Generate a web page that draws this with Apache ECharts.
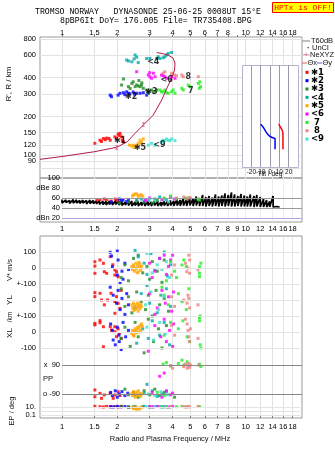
<!DOCTYPE html>
<html><head><meta charset="utf-8">
<script src="https://cdn.jsdelivr.net/npm/echarts@6/dist/echarts.min.js"></script>
<style>html,body{margin:0;padding:0;background:#fff}#c{width:335px;height:451px}</style>
</head><body><div id="c"></div>
<script>
// ---------- axis ticks ----------
const freqTicksTop = [1,1.5,2,3,4,5,6,7,8,10,12,14,16,18];
const freqTicksMid = [1,1.5,2,3,4,5,6,7,8,9,10,12,14,16,18];
const freqGrid = [1,1.5,2,3,4,5,6,7,8,9,10,12,14,16,18];
const heightTicks = [80,90,100,120,150,200,300,400,600,800];
const dbTicks = [20,40,60,80,100];
const dbTickText = ['dBn 20','40','60','dBe 80','100'];
const tiltTicks = [-20,-10,0,10,20];
const bottomTickVals = [3,11,70,86,102,118,134,150,166];
const bottomTickText = ['0.1','10.','-100','0','+-100','0','+-100','0','100'];
const ppTickVals = [24,53];
const ppTickText = ['o -90','x  90'];

// ---------- clusters ----------
const clusterColors = ['#ff0000','#0000ff','#228b22','#00a8a8','#ffa500','#ff00ff','#22ee22','#f08080','#40e0d0'];
const legendLabels = ['✱1','✱2','✱3','<4','✱5','<6',' 7',' 8','<9'];
const markerLabels = ['✱1','✱2','✱3','<4','✱5','<6','7','8','<9'];
const markerF = [2.07,2.38,3.07,3.14,2.66,3.71,5.02,4.87,3.39];
const markerH = [129,285,308,532,115,384,317,407,120];

// virtual height points [f MHz, h km, cluster]
const hgtPts = [
 [1.51,124,1],[1.61,131,1],[1.64,128,1],[1.68,135,1],[1.72,132,1],[1.75,136,1],[1.80,135,1],[1.83,131,1],[1.94,139,1],[1.98,136,1],[2.02,146,1],[2.05,142,1],[2.07,148,1],[2.11,139,1],[2.13,131,1],[2.16,127,1],
 [1.83,293,2],[1.86,285,2],[2.02,293,2],[2.07,303,2],[2.16,306,2],[2.20,295,2],[2.25,311,2],[2.30,303,2],[2.34,300,2],[2.44,310,2],[2.48,298,2],[2.55,303,2],[2.66,303,2],[2.77,306,2],[2.89,293,2],[2.95,306,2],
 [2.11,351,3],[2.16,391,3],[2.30,341,3],[2.35,330,3],[2.40,361,3],[2.44,372,3],[2.50,341,3],[2.55,351,3],[2.60,345,3],[2.62,380,3],[2.66,341,3],[2.71,351,3],[2.72,365,3],[2.77,331,3],[2.89,321,3],[2.95,303,3],[3.07,321,3],[3.14,311,3],[3.28,321,3],
 [2.25,549,4],[2.30,539,4],[2.40,532,4],[2.47,560,4],[2.50,600,4],[2.55,578,4],[2.60,524,4],[2.89,564,4],[3.01,564,4],[3.28,564,4],[3.34,581,4],[3.41,564,4],[3.55,571,4],[3.63,581,4],[3.71,600,4],[3.79,617,4],[3.95,628,4],
 [2.33,120,5],[2.40,118,5],[2.44,120,5],[2.47,115,5],[2.50,118,5],[2.55,120,5],[2.60,124,5],[2.66,131,5],[2.68,124,5],[2.71,127,5],[2.77,134,5],
 [2.55,445,6],[2.95,420,6],[3.00,438,6],[3.01,407,6],[3.07,396,6],[3.14,433,6],[3.21,407,6],[3.48,420,6],[3.55,415,6],[3.63,407,6],[3.71,396,6],[3.95,407,6],[4.12,396,6],
 [3.41,321,7],[3.48,311,7],[3.55,311,7],[3.63,321,7],[3.71,306,7],[3.79,303,7],[3.95,311,7],[4.03,321,7],[4.12,303,7],[4.49,331,7],[4.57,321,7],[4.87,351,7],[4.97,341,7],[5.52,361,7],[5.59,331,7],[5.63,372,7],[5.68,341,7],
 [3.55,433,8],[3.63,445,8],[3.95,433,8],[4.10,420,8],[4.20,415,8],[4.49,420,8],[4.57,407,8],[5.52,407,8],
 [2.95,120,9],[3.07,124,9],[3.21,120,9],[3.48,127,9],[3.55,131,9],[3.63,130,9],[3.71,134,9],[3.79,131,9],[3.87,130,9],[3.95,134,9],[4.12,130,9]
];

// NeXYZ real-height profile [f, h]
const profF = [0.759,1.0,1.499,1.985,2.267,2.497,2.771,3.141,3.489,3.729,3.956,4.098,4.122,4.02,3.776,3.502,3.278];
const profH = [93.1,97.9,106.6,115.4,127.5,148.1,171.8,205.4,268.6,332.8,397.8,459,520,568.6,600,616,627];
const nexyzF = [1.985,2.771];
const nexyzH = [115,172];

// tilt inset [deg, h]
const tiltXDeg = [5.4,5.4,2.4,-0.3,-2.5,-4.6,-6.8,-10];
const tiltXH = [111,134.5,137,140,145,153,163,174];
const tiltYDeg = [13.9,13.9,12.9,11.1,9.3];
const tiltYH = [111,148,157,162,174];

// amplitude panel: noise band
const noiseF = [1.00,1.05,1.10,1.15,1.20,1.25,1.30,1.36,1.42,1.48,1.54,1.60,1.67,1.74,1.81,1.88,1.96,2.04,2.12,2.21,2.30,2.40,2.50,2.60,2.71,2.82,2.94,3.06,3.19,3.32,3.46,3.60,3.75,3.90,4.06,4.23,4.40,4.58,4.77,4.97,5.17,5.38,5.60,5.83,6.07,6.32,6.58,6.85,7.13,7.42,7.72,8.04,8.37,8.71,9.07,9.44,9.83,10.2,10.6,11.1,11.5,12.0,12.5,13.0,13.5,14.1,14.7,15.3];
const noiseHi = [57,56,55,57,56,55,56,55,56,55,54, 55,54,53,54,53,55,54, 53,52,53,54,52,53,52,54, 53,52,54,53,52,54,53,55, 54,58,56,60,57,62,59, 63,60,66,62,64,61,67,63, 65,69,66,71,67,64,68,65, 63,67,64,66,62,58,56,53,64,43,42];
const noiseLo = [50,51,49,50,50,49,50,48,49,49,48, 47,47,46,47,46,47,46, 45,46,45,44,45,44,45,44, 45,44,45,44,44,45,44,45, 44,45,44,45,44,45,44, 45,44,44,43,44,43,44,43, 44,43,44,43,43,44,43,43, 43,43,42,43,42,42,42,42,42,41,41];
// echo amplitudes [f, dB, cluster]
const ampPts = [
 [1.55,56,1],[1.61,57,1],[1.70,58,1],[1.75,57,1],[1.95,58,1],[2.00,56,1],[1.85,54,1],
 [1.85,52,2],[2.05,58,2],[2.10,55,2],[2.15,56,2],[2.25,53,2],[2.30,55,2],
 [2.05,50,3],[2.30,52,3],[2.55,54,3],[2.80,52,3],[3.30,55,3],[3.60,58,3],[3.10,50,3],
 [2.55,56,4],[2.70,58,4],[2.80,54,4],[2.95,55,4],[3.20,58,4],[3.40,62,4],[3.70,57,4],
 [2.42,64,5],[2.45,66,5],[2.50,68,5],[2.55,68,5],[2.60,63,5],[2.65,66,5],[2.70,66,5],[2.75,64,5],
 [2.85,55,6],[3.00,60,6],[3.50,57,6],[3.90,62,6],[4.10,58,6],
 [3.60,60,7],[3.90,64,7],[4.20,58,7],[4.70,60,7],[5.50,58,7],[5.60,56,7],
 [4.20,60,8],[4.60,62,8],[4.80,58,8],[4.90,61,8],[5.00,60,8],
 [3.00,58,9],[3.20,54,9],[3.60,56,9],[3.80,52,9]
];

// lower panel rows [f, value, cluster]
const velStar = [
 [1.51,39,1],[1.51,12,1],[1.51,-33,1],[1.61,50,1],[1.68,29,1],[1.70,-23,1],[1.75,-33,1],[1.83,71,1],[1.94,-12,1],[1.94,-44,1],[1.98,-23,1],[2.02,-54,1],[1.89,20,1],
 [1.83,98,2],[1.86,75,2],[2.00,106,2],[2.02,50,2],[1.88,8,2],[2.00,-44,2],[2.07,-96,2],[2.12,-20,2],[2.20,30,2],[2.30,-10,2],[2.15,-70,2],
 [2.10,-60,3],[2.20,20,3],[2.30,-80,3],[2.45,60,3],[2.60,80,3],[2.75,-30,3],[2.90,10,3],[3.00,-70,3],[3.10,40,3],[3.30,-20,3],[3.50,-90,3],[3.60,50,3],
 [2.50,110,4],[2.60,70,4],[2.80,30,4],[2.90,-40,4],[3.05,90,4],[3.20,-10,4],[3.40,60,4],[3.60,100,4],[3.75,-50,4],[3.90,20,4],
 [2.40,10,5],[2.42,-10,5],[2.45,20,5],[2.48,-20,5],[2.50,0,5],[2.53,30,5],[2.55,-5,5],[2.58,15,5],[2.60,-25,5],[2.63,5,5],[2.66,25,5],[2.68,-15,5],[2.71,10,5],[2.45,0,5],[2.57,-30,5],[2.62,35,5],
 [3.00,30,6],[3.20,-20,6],[3.40,60,6],[3.60,80,6],[3.70,-40,6],[3.90,50,6],[4.00,80,6],[3.10,-60,6],[3.80,10,6],
 [3.90,40,7],[4.10,-20,7],[4.50,19,7],[4.60,50,7],[4.75,10,7],[5.60,8,7],[5.60,-33,7],[5.60,-54,7],[5.70,30,7],[4.20,-60,7],[3.70,-80,7],
 [4.85,0,8],[4.78,-23,8],[4.95,-33,8],[4.95,50,8],[5.50,-12,8],[3.95,-44,8],[4.10,19,8],[4.70,30,8],[4.90,80,8],
 [2.90,90,9],[3.10,-30,9],[3.30,20,9],[3.50,-10,9],[3.70,40,9],[3.85,-60,9]
];
const ylPts = [
 [1.51,46,1],[1.51,21,1],[1.61,42,1],[1.64,0,1],[1.77,0,1],[1.85,42,1],[1.94,-10,1],[1.98,21,1],[2.02,-21,1],[2.07,-52,1],[1.94,-83,1],[2.10,60,1],[1.70,-30,1],
 [1.83,80,2],[1.90,30,2],[1.98,-20,2],[2.02,60,2],[2.07,-60,2],[2.12,10,2],[2.20,-90,2],[2.25,40,2],[2.30,-30,2],
 [2.10,70,3],[2.20,-40,3],[2.30,20,3],[2.40,-80,3],[2.55,50,3],[2.70,-10,3],[2.85,-60,3],[2.95,30,3],[3.10,-100,3],[3.25,60,3],[3.40,-30,3],[3.60,10,3],[3.80,-70,3],
 [2.50,-50,4],[2.70,40,4],[2.90,90,4],[3.00,-20,4],[3.30,-80,4],[3.45,30,4],[3.70,70,4],[3.90,-40,4],
 [2.40,-30,5],[2.42,-50,5],[2.45,-20,5],[2.48,-40,5],[2.50,-60,5],[2.53,-30,5],[2.55,-50,5],[2.58,-20,5],[2.60,-45,5],[2.63,-35,5],[2.66,-55,5],[2.68,-25,5],[2.71,-40,5],[2.46,-65,5],[2.60,-70,5],
 [3.00,40,6],[3.30,-50,6],[3.50,60,6],[3.65,-20,6],[3.80,20,6],[3.95,-70,6],[4.05,50,6],[3.20,-90,6],
 [3.60,30,7],[3.80,-30,7],[4.30,40,7],[4.50,-10,7],[4.75,-60,7],[5.60,-110,7],[5.65,-100,7],[4.90,70,7],[3.50,80,7],
 [3.95,20,8],[4.10,-40,8],[4.60,0,8],[4.80,-20,8],[4.90,10,8],[4.95,-50,8],[4.85,30,8],[5.50,-30,8],
 [2.85,-30,9],[3.05,50,9],[3.35,-60,9],[3.60,20,9]
];
const xlPts = [
 [1.51,54,1],[1.51,44,1],[1.61,71,1],[1.61,58,1],[1.68,33,1],[1.83,33,1],[1.86,12,1],[1.94,2,1],[1.98,-29,1],[1.94,33,1],[1.68,-92,1],[2.05,-10,1],[2.10,-40,1],[2.02,20,1],
 [1.84,50,2],[1.88,10,2],[1.90,-50,2],[1.95,-80,2],[2.00,30,2],[2.04,-20,2],[2.10,-110,2],[2.15,60,2],[2.22,-30,2],[2.30,10,2],[2.05,-60,2],
 [2.10,-40,3],[2.20,30,3],[2.35,-90,3],[2.50,60,3],[2.60,-30,3],[2.80,-130,3],[2.95,80,3],[3.15,-60,3],[3.35,20,3],[3.50,-100,3],[3.70,40,3],
 [2.55,-70,4],[2.75,20,4],[2.95,-40,4],[3.10,70,4],[3.40,-20,4],[3.60,60,4],[3.85,-80,4],
 [2.40,-10,5],[2.42,10,5],[2.45,-20,5],[2.48,5,5],[2.50,20,5],[2.53,-5,5],[2.55,15,5],[2.58,30,5],[2.60,0,5],[2.63,25,5],[2.66,40,5],[2.68,10,5],[2.71,50,5],[2.74,35,5],[2.47,-25,5],
 [2.95,-120,6],[3.20,40,6],[3.45,-30,6],[3.60,80,6],[3.70,-60,6],[3.85,10,6],[4.00,-90,6],[4.05,50,6],
 [3.60,-20,7],[3.90,60,7],[4.30,20,7],[4.55,70,7],[4.80,-30,7],[5.60,70,7],[5.65,-80,7],[5.70,-100,7],[4.95,-60,7],
 [3.95,40,8],[4.10,-20,8],[4.80,50,8],[4.85,10,8],[4.90,-30,8],[4.95,-60,8],[5.00,20,8],[5.50,-40,8],[4.70,80,8],
 [2.90,30,9],[3.15,-50,9],[3.40,60,9],[3.65,-10,9]
];
const ppPts = [
 [1.51,-65,1],[1.51,-107,1],[1.61,-86,1],[1.64,-117,1],[1.70,-96,1],[1.83,-86,1],[1.94,-96,1],[1.90,-117,1],[2.02,-76,1],[2.07,-100,1],
 [1.84,-80,2],[1.88,-100,2],[1.95,-70,2],[2.00,-110,2],[2.05,-90,2],[2.12,-75,2],[2.20,-100,2],[2.28,-85,2],
 [2.20,-60,3],[2.30,-95,3],[2.45,-80,3],[2.60,-110,3],[2.80,-70,3],[3.00,-95,3],[3.20,-60,3],[3.40,-100,3],[3.60,-80,3],[4.10,-110,3],
 [2.50,-100,4],[2.80,-85,4],[3.10,-70,4],[3.30,-105,4],[3.50,-90,4],[3.70,-75,4],[2.90,-30,4],
 [2.40,-85,5],[2.42,-100,5],[2.45,-75,5],[2.48,-95,5],[2.50,-110,5],[2.53,-90,5],[2.55,-80,5],[2.58,-100,5],[2.60,-70,5],[2.63,-95,5],[2.66,-85,5],[2.68,-105,5],[2.71,-90,5],
 [3.10,-80,6],[3.50,-110,6],[3.70,-70,6],[3.90,-95,6],[4.00,-85,6],[3.60,40,6],[3.40,20,6],
 [3.55,95,7],[3.70,105,7],[3.90,85,7],[4.30,100,7],[4.60,90,7],[4.80,110,7],[5.60,95,7],[5.70,80,7],[4.50,120,7],[3.60,-100,7],[3.30,-80,7],
 [4.60,80,8],[4.70,95,8],[4.80,70,8],[4.85,85,8],[4.90,100,8],[4.95,75,8],[5.00,90,8],[3.90,85,8],[4.00,70,8],[5.55,90,8],
 [2.95,-90,9],[3.20,-100,9],[3.45,-75,9],[3.75,-95,9]
];
const epPts = [
 [1.51,15,1],[1.61,12,1],[1.68,10,1],[1.75,14,1],[1.83,11,1],[1.94,13,1],[2.02,10,1],[2.10,15,1],
 [1.84,12,2],[1.90,10,2],[2.00,14,2],[2.10,11,2],[2.20,13,2],[2.30,10,2],
 [2.10,13,3],[2.30,10,3],[2.50,14,3],[2.75,12,3],[3.00,10,3],[3.25,13,3],[3.50,11,3],
 [2.45,12,4],[2.80,14,4],[3.10,10,4],[3.40,13,4],[3.70,11,4],
 [2.40,8,5],[2.45,4,5],[2.50,10,5],[2.55,2.5,5],[2.60,6,5],[2.65,3,5],[2.70,9,5],[2.48,5,5],
 [3.00,13,6],[3.15,11,6],[3.30,14,6],[3.60,12,6],[3.80,10,6],[4.00,14,6],
 [3.55,11,7],[3.70,13,7],[3.90,10,7],[4.20,12,7],[4.50,14,7],[4.75,11,7],[5.60,13,7],
 [3.90,14,8],[4.60,12,8],[4.75,10,8],[4.85,13,8],[4.95,11,8],[5.50,14,8],
 [2.90,12,9],[3.20,14,9],[3.45,10,9],[3.70,12,9]
];

// ---------- layout helpers (stacked lower panel rows) ----------
const FMIN = 0.759, FMAX = 20.25, HMIN = 66.7, HMAX = 827.6;
const vRow = v => 150 + v*0.16;
const ylRow = v => 118 + v*0.16;
const xlRow = v => 86 + v*0.16;
const ppRow = v => 38.5 + v*0.161;
const epRow = v => 3 + (Math.log10(v)+1)*4;
const FONT = 'Liberation Sans';
function lookup(vals, texts){
  return function(v){
    for (let i=0;i<vals.length;i++){ if (Math.abs(vals[i]-v) <= 1e-4*Math.max(1,Math.abs(v))) return texts[i]; }
    return '';
  };
}
const fmtF = lookup(freqTicksMid, freqTicksMid.map(String));
const fmtH = lookup(heightTicks, heightTicks.map(String));

const series = [];
for (let c=1;c<=9;c++){
  const col = clusterColors[c-1];
  series.push({type:'scatter', xAxisIndex:0, yAxisIndex:0, symbol:'rect', symbolSize:3, silent:true, z:3,
    itemStyle:{color:col}, data: hgtPts.filter(p=>p[2]===c).map(p=>[p[0],p[1]])});
  series.push({type:'scatter', xAxisIndex:1, yAxisIndex:1, symbol:'rect', symbolSize:3, silent:true, z:4,
    itemStyle:{color:col}, data: ampPts.filter(p=>p[2]===c).map(p=>[p[0],p[1]])});
  const low = [].concat(
    velStar.filter(p=>p[2]===c).map(p=>[p[0], vRow(p[1])]),
    ylPts.filter(p=>p[2]===c).map(p=>[p[0], ylRow(p[1])]),
    xlPts.filter(p=>p[2]===c).map(p=>[p[0], xlRow(p[1])]),
    ppPts.filter(p=>p[2]===c).map(p=>[p[0], ppRow(p[1])]),
    epPts.filter(p=>p[2]===c).map(p=>[p[0], epRow(p[1])])
  );
  series.push({type:'scatter', xAxisIndex:3, yAxisIndex:3, symbol:'rect', symbolSize:3, silent:true, z:3,
    itemStyle:{color:col}, data: low});
}
// noise trace (zig-zag between per-bin max and min)
const noiseLine = [];
noiseF.forEach((f,i)=>{ noiseLine.push([f, noiseHi[i]]); noiseLine.push([f, noiseLo[i]]); });
series.push({type:'line', xAxisIndex:1, yAxisIndex:1, showSymbol:false, silent:true, z:3,
  lineStyle:{color:'#000', width:1.7}, data: noiseLine,
  markLine:{symbol:'none', silent:true, label:{show:false}, animation:false,
    data:[
      [{coord:[1,60], lineStyle:{color:'#999',width:1,type:'solid'}},{coord:[FMAX,60]}],
      [{coord:[1,40], lineStyle:{color:'#999',width:1,type:'solid'}},{coord:[FMAX,40]}],
      [{coord:[1,20], lineStyle:{color:'#a8a8e8',width:1,type:'solid'}},{coord:[FMAX,20]}]
    ]}
});
// profile curve
series.push({type:'line', xAxisIndex:0, yAxisIndex:0, showSymbol:false, silent:true, z:4,
  lineStyle:{color:'#b0184a', width:1}, data: profF.map((f,i)=>[f, profH[i]])});
series.push({type:'scatter', xAxisIndex:0, yAxisIndex:0, symbolSize:0, silent:true, z:5,
  data: nexyzF.map((f,i)=>[f, nexyzH[i]]),
  label:{show:true, position:'inside', formatter:'I', color:'#e0608a', fontSize:8, fontFamily:'DejaVu Serif', fontWeight:'bold'}});
// cluster markers
series.push({type:'scatter', xAxisIndex:0, yAxisIndex:0, symbolSize:0, silent:true, z:6,
  data: markerF.map((f,i)=>({value:[f, markerH[i]], name:markerLabels[i]})),
  label:{show:true, position:'inside', formatter:'{b}', color:'#000', fontSize:8, fontFamily:'DejaVu Sans', fontWeight:'bold'}});
// inset tilt
series.push({type:'line', xAxisIndex:2, yAxisIndex:2, showSymbol:false, silent:true, z:6,
  lineStyle:{color:'#0000ff', width:1.5}, data: tiltXDeg.map((d,i)=>[d, tiltXH[i]]),
  markLine:{symbol:'none', silent:true, label:{show:false}, animation:false,
    lineStyle:{color:'#9a9aaa', width:1, type:'solid'},
    data: tiltTicks.map(t=>({xAxis:t}))}});
series.push({type:'line', xAxisIndex:2, yAxisIndex:2, showSymbol:false, silent:true, z:6,
  lineStyle:{color:'#ff0000', width:1.5}, data: tiltYDeg.map((d,i)=>[d, tiltYH[i]])});
// lower panel horizontal guide lines
const lightRows = [166,150,134,118,102,86,70,11,7,3];
const darkRows = [53,24];
series.push({type:'line', xAxisIndex:3, yAxisIndex:3, showSymbol:false, silent:true, z:1, data:[],
  markLine:{symbol:'none', silent:true, label:{show:false}, animation:false,
    data: lightRows.map(r=>[{coord:[FMIN,r], lineStyle:{color:'#e4e4e4',width:1,type:'solid'}},{coord:[FMAX,r]}])
      .concat(darkRows.map(r=>[{coord:[1,r], lineStyle:{color:'#888',width:1,type:'solid'}},{coord:[FMAX,r]}]))}});

const axLabel = {fontSize:7.5, color:'#000', fontFamily:FONT};
const option = {
  animation:false,
  backgroundColor:'#fff',
  textStyle:{fontFamily:FONT},
  grid:[
    {left:40, top:37, width:262, height:141, show:true, borderColor:'#999', borderWidth:1},
    {left:40, top:178, width:262, height:44, show:true, borderColor:'#999', borderWidth:1},
    {left:242, top:65, width:56, height:102, show:false},
    {left:40, top:236, width:262, height:182, show:true, borderColor:'#999', borderWidth:1}
  ],
  xAxis:[
    {gridIndex:0, type:'log', min:FMIN, max:FMAX, position:'top', axisLine:{show:false},
      axisTick:{show:true, inside:false, length:2, customValues:freqGrid, lineStyle:{color:'#777'}},
      axisLabel:Object.assign({customValues:freqTicksTop, formatter:fmtF, margin:0}, axLabel),
      splitLine:{show:true, lineStyle:{color:'#e2e2e2'}}},
    {gridIndex:1, type:'log', min:FMIN, max:FMAX, position:'bottom', axisLine:{show:false},
      axisTick:{show:false, customValues:freqGrid},
      axisLabel:Object.assign({customValues:freqTicksMid, formatter:fmtF, margin:3}, axLabel),
      splitLine:{show:true, lineStyle:{color:'#ececec'}}},
    {gridIndex:2, type:'value', min:-30, max:30, axisLine:{show:false}, axisTick:{show:false},
      axisLabel:{customValues:tiltTicks, fontSize:6.5, color:'#111', margin:2, fontFamily:FONT},
      splitLine:{show:false}},
    {gridIndex:3, type:'log', min:FMIN, max:FMAX, position:'bottom', axisLine:{show:false},
      axisTick:{show:false, customValues:freqGrid},
      axisLabel:Object.assign({customValues:freqTicksTop, formatter:fmtF, margin:5}, axLabel),
      splitLine:{show:true, lineStyle:{color:'#e2e2e2'}}},
    {gridIndex:3, type:'log', min:FMIN, max:FMAX, position:'top', axisLine:{show:false},
      axisTick:{show:true, length:3, customValues:freqGrid, lineStyle:{color:'#777'}},
      axisLabel:{show:false}, splitLine:{show:false}}
  ],
  yAxis:[
    {gridIndex:0, type:'log', min:HMIN, max:HMAX, position:'left', axisLine:{show:false},
      axisTick:{show:false, customValues:heightTicks},
      axisLabel:Object.assign({customValues:heightTicks, formatter:fmtH, margin:4}, axLabel),
      splitLine:{show:true, lineStyle:{color:'#e2e2e2'}}},
    {gridIndex:1, type:'value', min:12, max:100, position:'left', offset:-22, axisLine:{show:false}, axisTick:{show:false},
      axisLabel:Object.assign({customValues:dbTicks, formatter:lookup(dbTicks, dbTickText), margin:2}, axLabel),
      splitLine:{show:false}},
    {gridIndex:2, type:'log', min:80.7, max:502, show:false},
    {gridIndex:3, type:'value', min:0, max:182, position:'left', axisLine:{show:false}, axisTick:{show:false},
      axisLabel:Object.assign({customValues:bottomTickVals, formatter:lookup(bottomTickVals, bottomTickText), margin:4}, axLabel),
      splitLine:{show:false}},
    {gridIndex:3, type:'value', min:0, max:182, position:'left', offset:-22, axisLine:{show:false}, axisTick:{show:false},
      axisLabel:Object.assign({customValues:ppTickVals, formatter:lookup(ppTickVals, ppTickText), margin:2}, axLabel),
      splitLine:{show:false}}
  ],
  series: series,
  graphic: buildGraphics()
};

function txt(x, y, s, opt){
  opt = opt || {};
  return {type:'text', x:x, y:y, rotation:opt.rot||0, z:opt.z||10, silent:true,
    style:{text:s, font:(opt.weight||'normal')+' '+(opt.size||8)+'px '+(opt.family||FONT), fill:opt.color||'#111',
      textAlign:opt.align||'left', textVerticalAlign:opt.valign||'middle', align:opt.align||'left', verticalAlign:opt.valign||'middle'}};
}
function buildGraphics(){
  const g = [];
  g.push(txt(35, 12, 'TROMSO NORWAY   DYNASONDE 25-06-25 0008UT 15°E', {family:'Liberation Mono', size:8.2, color:'#000'}));
  g.push(txt(60, 21, '8pBP6It DoY= 176.005 File= TR735408.BPG', {family:'Liberation Mono', size:8.2, color:'#000'}));
  g.push({type:'rect', z:10, silent:true, shape:{x:272.5, y:2.5, width:61, height:10}, style:{fill:'#ffff00', stroke:'#ff0000', lineWidth:1}});
  g.push(txt(303, 8, 'HPTx is OFF!', {family:'Liberation Mono', size:8, color:'#ff0000', align:'center', z:11}));
  // inset frame (white)
  g.push({type:'rect', z:1, silent:true, shape:{x:242.5, y:65.5, width:56, height:102}, style:{fill:'#fff', stroke:'#b4b4cc', lineWidth:1}});
  g.push(txt(270, 174.5, 'Tilt / deg', {size:6.5, align:'center'}));
  // axis titles
  g.push(txt(9, 84, "R', R / km", {rot:Math.PI/2, align:'center', size:8}));
  g.push(txt(10, 270, 'V* m/s', {rot:Math.PI/2, align:'center', size:7.5}));
  g.push(txt(10, 300, 'YL', {rot:Math.PI/2, align:'center', size:8}));
  g.push(txt(10, 317, '/km', {rot:Math.PI/2, align:'center', size:6.5}));
  g.push(txt(10, 333, 'XL', {rot:Math.PI/2, align:'center', size:8}));
  g.push(txt(43, 379, 'PP', {size:7.5}));
  g.push(txt(12, 411, 'EP / deg', {rot:Math.PI/2, align:'center', size:7.5}));
  g.push(txt(170, 439, 'Radio and Plasma Frequency / MHz', {align:'center', size:7.5}));
  // legend
  g.push({type:'line', z:10, silent:true, shape:{x1:302, y1:41, x2:310, y2:41}, style:{stroke:'#aaa', lineWidth:1.5}});
  g.push(txt(311, 41, 'T60dB', {size:7.5}));
  g.push(txt(307, 47.5, '·', {size:8, weight:'bold'}));
  g.push(txt(312, 48, 'UnCl', {size:7.5}));
  g.push({type:'line', z:10, silent:true, shape:{x1:302, y1:55, x2:310, y2:55}, style:{stroke:'#e0a0b8', lineWidth:1}});
  g.push(txt(306, 55, '+', {size:8, color:'#e0608a', align:'center'}));
  g.push(txt(310, 55, 'NeXYZ', {size:7.5}));
  g.push({type:'line', z:10, silent:true, shape:{x1:302, y1:63, x2:307, y2:63}, style:{stroke:'#e06060', lineWidth:1}});
  g.push(txt(307.5, 63, 'Θx', {size:7.5}));
  g.push({type:'line', z:10, silent:true, shape:{x1:317, y1:63, x2:322, y2:63}, style:{stroke:'#6060e0', lineWidth:1}});
  g.push(txt(322.5, 63, 'Θy', {size:7.5}));
  for (let i=0;i<9;i++){
    const y = 72.3 + i*8.35;
    g.push({type:'rect', z:10, silent:true, shape:{x:305.5, y:y-1.5, width:3, height:3}, style:{fill:clusterColors[i]}});
    g.push(txt(311, y, legendLabels[i], {size:8.5, family:'DejaVu Sans', weight:'bold', color:'#000'}));
  }
  return g;
}

const chart = echarts.init(document.getElementById('c'), null, {renderer:'canvas', width:335, height:451});
chart.setOption(option);
</script>
</body></html>
